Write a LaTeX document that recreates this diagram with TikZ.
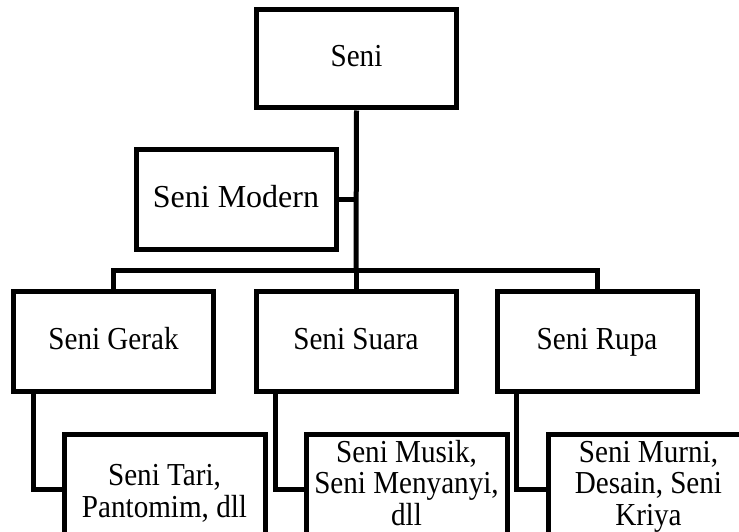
\documentclass[tikz,border=0pt]{standalone}
\usepackage{fontspec}
\setmainfont{Liberation Serif}[FakeStretch=0.91]
\newfontfamily\widefont{Liberation Serif}
\begin{document}
\begin{tikzpicture}[x=1pt,y=-1pt,
  box/.style={draw=black, line width=5pt, minimum width=200pt, minimum height=100pt,
    inner sep=0pt, align=center, text height=24pt, text depth=8pt,
    font=\fontsize{32}{31.5}\selectfont},
  subbox/.style={draw=black, line width=5pt, minimum width=201pt, minimum height=102pt, inner sep=0pt},
  subtext/.style={anchor=north, inner sep=0pt, align=center, font=\fontsize{32}{31.5}\selectfont},
  link/.style={draw=black, line width=5pt, line join=miter}]
\useasboundingbox (0,0) rectangle (739,532);
\clip (0,0) rectangle (739,532);
\node[box, minimum height=98pt] (seni) at (356.5,59) {Seni};
\node[box, font=\widefont\fontsize{32}{31.5}\selectfont] (modern) at (236,199.5) {Seni Modern};
\node[box] (gerak) at (113.5,341.5) {Seni Gerak};
\node[box] (suara) at (356,341.5) {Seni Suara};
\node[box] (rupa) at (597,341.5) {Seni Rupa};
\node[subbox] (tari) at (164.5,485) {};
\node[subbox] (musik) at (406.5,485) {};
\node[subbox] (murni) at (648.5,485) {};
\node[subtext] (taritext) at (164.5,463) {\strut Seni Tari,\\Pantomim, dll};
\node[subtext] (musiktext) at (406.5,440) {\strut Seni Musik,\\Seni Menyanyi,\\dll};
\node[subtext] (murnitext) at (648.5,440) {\strut Seni Murni,\\Desain, Seni\\Kriya};
\coordinate (bar) at (356,270);
\draw[link] (seni.south) -- (bar);
\draw[link] (modern.east) -- (modern.east -| seni.south);
\draw[link] (gerak.north) |- (bar) -| (rupa.north);
\draw[link] (bar) -- (suara.north);
\draw[link] ([xshift=22pt]gerak.south west) |- ([yshift=-4pt]tari.west);
\draw[link] ([xshift=22pt]suara.south west) |- ([yshift=-4pt]musik.west);
\draw[link] ([xshift=22pt]rupa.south west) |- ([yshift=-4pt]murni.west);
\end{tikzpicture}
\end{document}
